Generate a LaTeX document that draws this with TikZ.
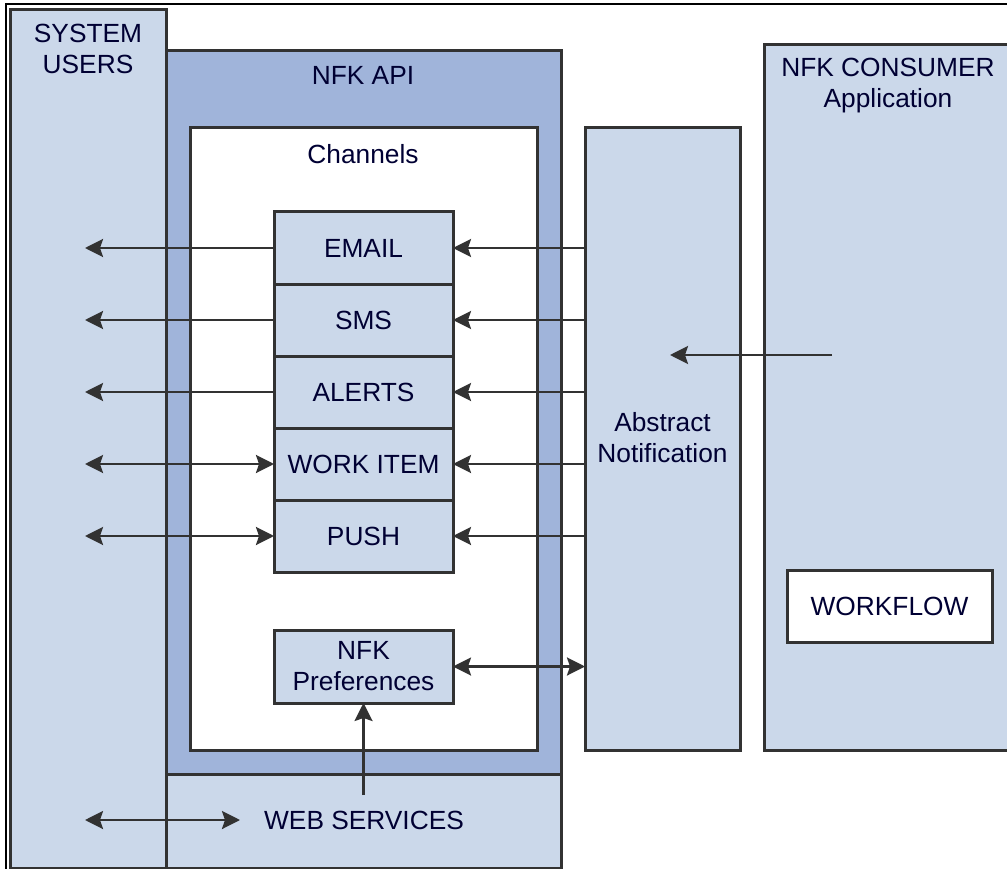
\documentclass[tikz,border=0pt]{standalone}
\usepackage{fontspec}
\setmainfont{Liberation Sans}
\usetikzlibrary{arrows.meta}
\definecolor{lightblue}{RGB}{203,216,234}
\definecolor{midblue}{RGB}{160,180,218}
\definecolor{edge}{RGB}{50,50,50}
\tikzset{
  box/.style={draw=edge, line width=3pt, inner sep=0pt, outer sep=0pt, anchor=north west},
  lbl/.style={inner sep=0pt, align=center, font=\fontsize{26.3}{31}\selectfont, text=black!80!blue},
  tip/.style={Stealth[length=18pt,width=18pt,inset=3pt]},
  arr/.style={draw=edge, line width=2.6pt, -{Stealth[length=18pt,width=18pt,inset=3pt]}},
  darr/.style={draw=edge, line width=2.6pt, {Stealth[length=18pt,width=18pt,inset=3pt]}-{Stealth[length=18pt,width=18pt,inset=3pt]}},
}
\begin{document}
\begin{tikzpicture}[x=1pt,y=-1pt]
\useasboundingbox (0,0) rectangle (1007,869);
\fill[white] (0,0) rectangle (1007,869);
\begin{scope}
\clip (0,0) rectangle (1007,869);
% outer frame (top and left)
\coordinate (fTL) at (6,4);
\coordinate (fTR) at (1020,4);
\coordinate (fBL) at (6,880);
\draw[black, line width=1.2pt] (fTR) -- (fTL) -- (fBL);
% containers
\node[box, fill=lightblue, minimum width=156pt, minimum height=858pt] (sys) at (10,10) {};
\node[box, fill=midblue, minimum width=395pt, minimum height=723pt] (api) at (166,51) {};
\node[box, fill=lightblue, minimum width=395pt, minimum height=94pt] (wsbox) at (166,774) {};
\node[box, fill=white, minimum width=347pt, minimum height=622pt] (chan) at (190,128) {};
\node[box, fill=lightblue, minimum width=155pt, minimum height=622pt] (abs) at (585,128) {};
\node[box, fill=lightblue, minimum width=260pt, minimum height=705pt] (cons) at (764,45) {};
\node[box, fill=white, minimum width=205pt, minimum height=72pt] (wf) at (787,570) {};
% channel boxes
\node[box, fill=lightblue, minimum width=179pt, minimum height=72pt] (email) at (274,212) {};
\node[box, fill=lightblue, minimum width=179pt, minimum height=72pt] (sms) at (274,284) {};
\node[box, fill=lightblue, minimum width=179pt, minimum height=72pt] (alerts) at (274,356) {};
\node[box, fill=lightblue, minimum width=179pt, minimum height=72pt] (work) at (274,428) {};
\node[box, fill=lightblue, minimum width=179pt, minimum height=72pt] (push) at (274,500) {};
\node[box, fill=lightblue, minimum width=179pt, minimum height=73pt] (pref) at (274,630) {};
% labels
\node[lbl] (tsys) at (88,49) {SYSTEM\\USERS};
\node[lbl] (tapi) at (363,75) {NFK API};
\node[lbl] (tchan) at (363,154) {Channels};
\node[lbl] at (email.center) {EMAIL};
\node[lbl] at (sms.center) {SMS};
\node[lbl] at (alerts.center) {ALERTS};
\node[lbl] at (work.center) {WORK ITEM};
\node[lbl] at (push.center) {PUSH};
\node[lbl] at (pref.center) {NFK\\Preferences};
\node[lbl] (tabs) at (662.5,438) {Abstract\\Notification};
\node[lbl] (tcons) at (888,86) {NFK CONSUMER\\Application};
\node[lbl] at (wf.center) {WORKFLOW};
\node[lbl] (ws) at (364,820) {WEB SERVICES};
% left arrows
\coordinate (xL) at (85,0);
\draw[arr] (email.west) -- (xL |- email.west);
\draw[arr] (sms.west) -- (xL |- sms.west);
\draw[arr] (alerts.west) -- (xL |- alerts.west);
\draw[darr] (xL |- work.west) -- (work.west);
\draw[darr] (xL |- push.west) -- (push.west);
% right arrows
\draw[arr] (abs.west |- email.east) -- (email.east);
\draw[arr] (abs.west |- sms.east) -- (sms.east);
\draw[arr] (abs.west |- alerts.east) -- (alerts.east);
\draw[arr] (abs.west |- work.east) -- (work.east);
\draw[arr] (abs.west |- push.east) -- (push.east);
\draw[darr] (pref.east) -- (abs.west |- pref.east);
% consumer to abstract
\coordinate (cA) at (832,355);
\coordinate (cB) at (670,355);
\draw[arr] (cA) -- (cB);
% web services
\coordinate (wsUp) at (363.5,795);
\draw[arr] (wsUp) -- (pref.south);
\coordinate (wsL) at (85,820);
\coordinate (wsR) at (240,820);
\draw[darr] (wsL) -- (wsR);
\end{scope}
\end{tikzpicture}
\end{document}
